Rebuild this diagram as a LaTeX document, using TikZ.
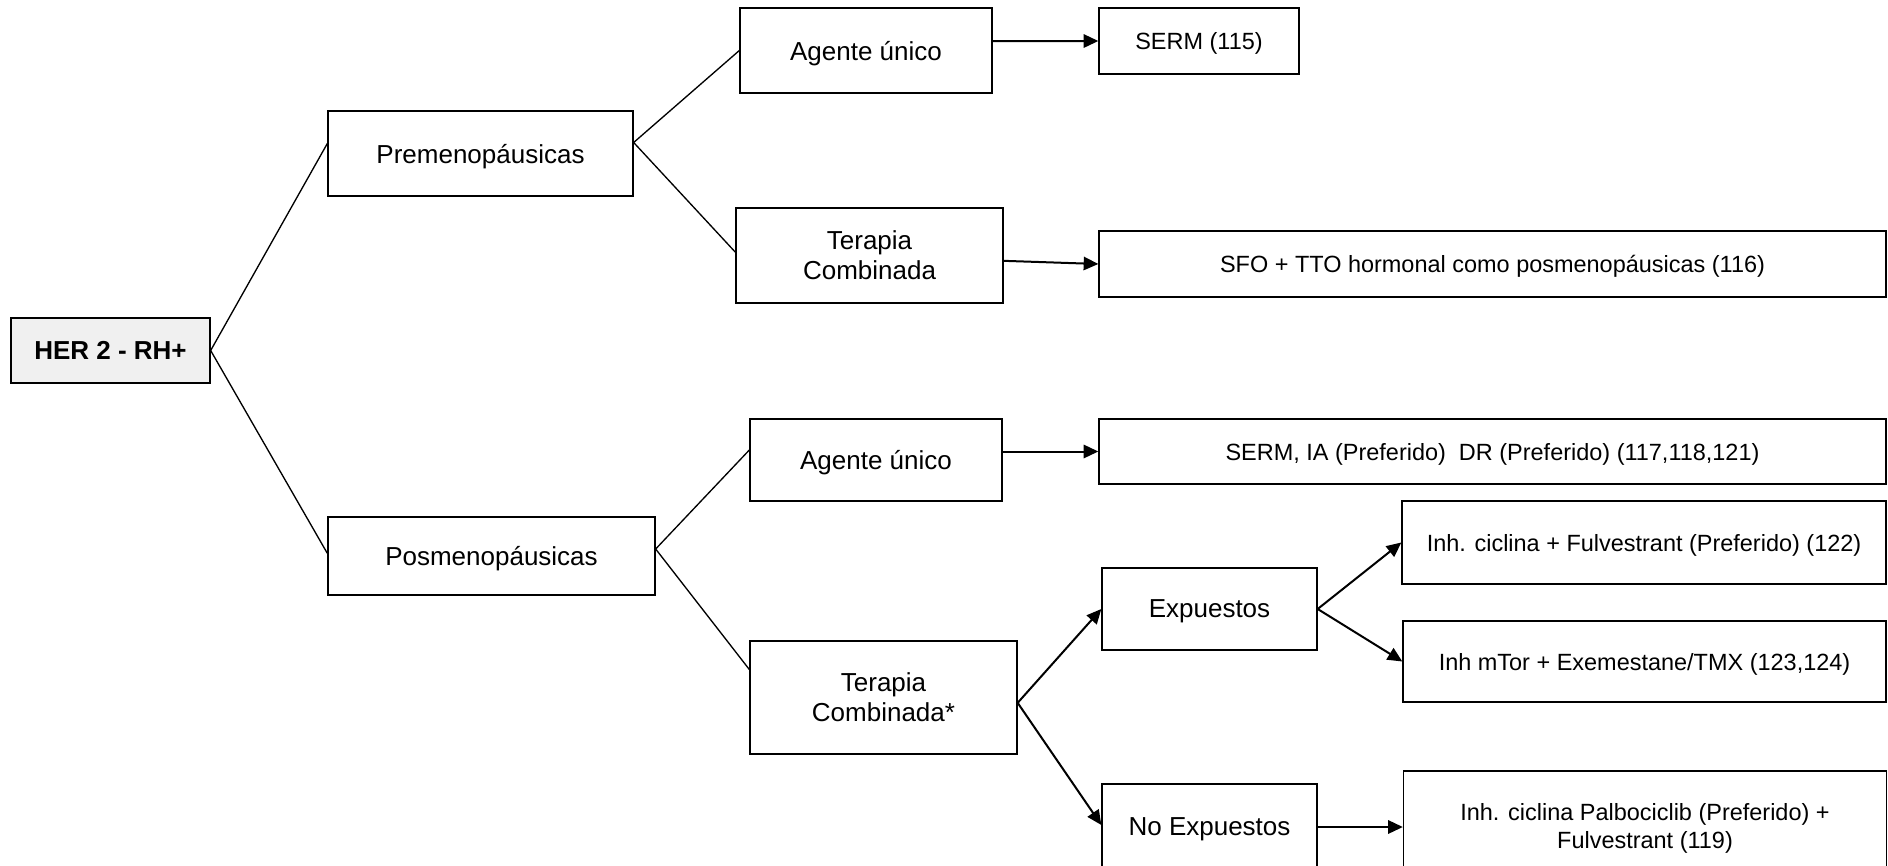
\documentclass[tikz,border=0pt]{standalone}
\usepackage{fontspec}
\setmainfont{Liberation Sans}
\usetikzlibrary{arrows.meta}

\tikzset{
  box/.style={draw, line width=1pt, align=center, inner sep=0pt, text depth=0pt,
    font=\fontsize{19.5}{22.5}\selectfont},
  leaf/.style={box, font=\fontsize{17.6}{21}\selectfont},
  link/.style={line width=1pt},
  arr/.style={line width=1.5pt, -{Triangle[length=11pt,width=10pt]}}
}

\begin{document}
\begin{tikzpicture}[x=0.75pt,y=-0.75pt]
  \clip (0,0) rectangle (1888,866);
  % root
  \node[box, fill=gray!12, font=\fontsize{19.5}{22.5}\selectfont\bfseries,
    minimum width=149.25pt, minimum height=48.75pt] at (110.5,350.5) (her) {HER 2 - RH+};
  % second level
  \node[box, minimum width=228.75pt, minimum height=63.75pt] at (480.5,153.5) (premen) {Premenop\'ausicas};
  \node[box, minimum width=245.25pt, minimum height=58.5pt] at (491.5,556) (posmen) {Posmenop\'ausicas};
  % third level
  \node[box, minimum width=189pt, minimum height=63.75pt] at (866,50.5) (agente1) {Agente \'unico};
  \node[box, minimum width=200.25pt, minimum height=71.25pt] at (869.5,255.5) (terapia1) {Terapia\\Combinada};
  \node[box, minimum width=189pt, minimum height=61.5pt] at (876,460) (agente2) {Agente \'unico};
  \node[box, minimum width=200.25pt, minimum height=84.75pt] at (883.5,697.5) (terapia2) {Terapia\\Combinada*};
  \node[box, minimum width=161.25pt, minimum height=61.5pt] at (1209.5,609) (expuestos) {Expuestos};
  \node[box, minimum width=161.25pt, minimum height=64.5pt] at (1209.5,827) (noexp) {No Expuestos};
  % leaves
  \node[leaf, minimum width=150pt, minimum height=49.5pt] at (1199,41) (serm) {SERM (115)};
  \node[leaf, minimum width=590.25pt, minimum height=49.5pt] at (1492.5,264) (sfo) {SFO + TTO hormonal como posmenop\'ausicas (116)};
  \node[leaf, minimum width=590.25pt, minimum height=48.75pt] at (1492.5,451.5) (sermia) {SERM, IA (Preferido)\ \ DR (Preferido) (117,118,121)};
  \node[leaf, minimum width=363pt, minimum height=62.25pt] at (1644,542.5) (inhcic) {Inh. ciclina + Fulvestrant (Preferido) (122)};
  \node[leaf, minimum width=362.25pt, minimum height=60.75pt] at (1644.5,661.5) (inhmtor) {Inh mTor + Exemestane/TMX (123,124)};
  \node[leaf, minimum width=362.25pt, minimum height=82.5pt] at (1645,826) (palbo) {Inh. ciclina Palbociclib (Preferido) +\\Fulvestrant (119)};
  % plain links
  \draw[link] (her.east) -- ([yshift=7.5pt]premen.west);
  \draw[link] (her.east) -- ([yshift=2pt]posmen.west);
  \draw[link] ([yshift=8.25pt]premen.east) -- (agente1.west);
  \draw[link] ([yshift=8.25pt]premen.east) -- ([yshift=2.5pt]terapia1.west);
  \draw[link] ([yshift=5.25pt]posmen.east) -- ([yshift=7.5pt]agente2.west);
  \draw[link] ([yshift=5.25pt]posmen.east) -- ([yshift=21pt]terapia2.west);
  % arrows
  \draw[arr] ([yshift=7pt]agente1.east) -- (serm.west);
  \draw[arr] ([yshift=-4pt]terapia1.east) -- (sfo.west);
  \draw[arr] (agente2.east |- sermia.west) -- (sermia.west);
  \draw[arr] ([yshift=-4pt]terapia2.east) -- (expuestos.west);
  \draw[arr] ([yshift=-4pt]terapia2.east) -- ([yshift=1.5pt]noexp.west);
  \draw[arr] (expuestos.east) -- (inhcic.west);
  \draw[arr] (expuestos.east) -- (inhmtor.west);
  \draw[arr] (noexp.east) -- (noexp.east -| palbo.west);
\end{tikzpicture}
\end{document}
